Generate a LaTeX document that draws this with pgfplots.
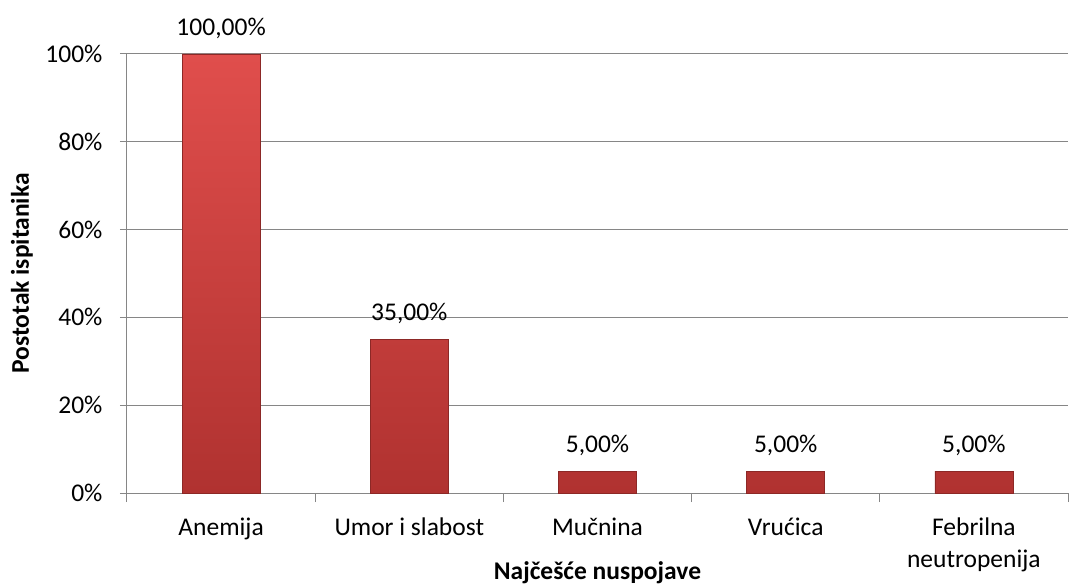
\documentclass[border=0pt]{standalone}
\usepackage{pgfplots}
\pgfplotsset{compat=1.18}
\usepackage{fontspec}
\setmainfont{Carlito}
\definecolor{gridgray}{RGB}{134,134,134}
\definecolor{bartop}{RGB}{224,78,76}
\definecolor{barmid}{RGB}{214,64,62}
\definecolor{barbot}{RGB}{176,50,48}
\definecolor{baredge}{RGB}{140,40,38}
\begin{document}
\begin{tikzpicture}
\begin{axis}[
  scale only axis,
  width=941pt, height=439pt,
  xmin=-0.5, xmax=4.5,
  ymin=0, ymax=100,
  axis lines=left,
  axis line style={-, gridgray, line width=1pt},
  ymajorgrids,
  grid style={gridgray, line width=1pt},
  ytick={0,20,40,60,80,100},
  yticklabels={0\%,20\%,40\%,60\%,80\%,100\%},
  xtick={0,1,2,3,4},
  xticklabels={Anemija,Umor i slabost,Mučnina,Vrućica,Febrilna\\neutropenija},
  minor xtick={-0.5,0.5,1.5,2.5,3.5,4.5},
  major x tick style={draw=none},
  minor x tick style={gridgray, line width=1pt},
  major y tick style={gridgray, line width=1pt},
  tick align=outside,
  major tick length=7pt,
  minor tick length=9pt,
  /pgf/number format/assume math mode=true,
  xticklabel style={align=center, font=\fontsize{25.5}{32}\selectfont, yshift=-14pt},
  yticklabel style={font=\fontsize{25.5}{30}\selectfont, xshift=-14pt},
  xlabel={\textbf{Najčešće nuspojave}},
  ylabel={\textbf{Postotak ispitanika}},
  xlabel style={font=\fontsize{25.5}{30}\selectfont, at={(axis description cs:0.5,0)}, anchor=center, yshift=-80pt},
  ylabel style={font=\fontsize{25.5}{30}\selectfont, at={(axis description cs:0,0.5)}, anchor=center, yshift=105pt},
  ybar, bar width=78pt,
  nodes near coords={\pgfmathprintnumber[fixed, fixed zerofill, precision=2, use comma, assume math mode=true]{\pgfplotspointmeta}\%},
  nodes near coords style={font=\fontsize{25.5}{30}\selectfont, anchor=south, yshift=12pt},
  clip=false,
]
\addplot[draw=baredge, line width=0.6pt, shade, top color=bartop, middle color=barmid, bottom color=barbot] coordinates {(0,100) (1,35) (2,5) (3,5) (4,5)};
\coordinate (sw) at (rel axis cs:0,0);
\coordinate (ne) at (rel axis cs:1,1);
\end{axis}
\pgfresetboundingbox
\path[use as bounding box] ([shift={(-127pt,-94pt)}]sw) rectangle ([shift={(3pt,54pt)}]ne);
\end{tikzpicture}
\end{document}
